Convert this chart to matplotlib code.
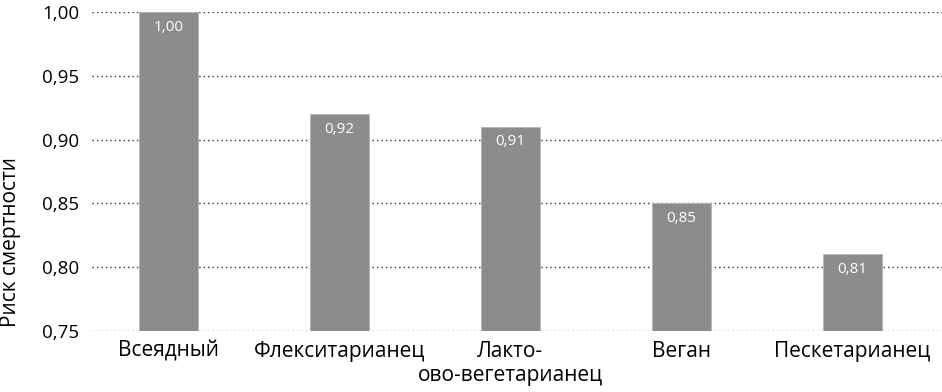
import matplotlib
matplotlib.use("Agg")
import matplotlib.pyplot as plt

plt.rcParams['font.family'] = ['Open Sans', 'DejaVu Sans']

categories = ["Всеядный", "Флекситарианец", "Лакто-\nово-вегетарианец", "Веган", "Пескетарианец"]
values = [1.00, 0.92, 0.91, 0.85, 0.81]
yticks = [0.75, 0.80, 0.85, 0.90, 0.95, 1.00]

W, H = 942, 392
fig = plt.figure(figsize=(W / 100, H / 100), dpi=100)
ax = fig.add_axes([92 / W, (H - 331) / H, 850 / W, (331 - 12) / H])

x = list(range(len(categories)))
ax.set_axisbelow(True)
ax.yaxis.grid(True, linestyle=(0, (1, 2.2)), color='#333333', linewidth=1.0)
ax.bar(x, [v - 0.75 for v in values], bottom=0.75, width=0.345, color='#8c8c8c',
       edgecolor='#b5b5b5', linewidth=0.6, zorder=3)

for xi, v in zip(x, values):
    ax.text(xi, v - 0.006, f"{v:.2f}".replace('.', ','), ha='center', va='top',
            color='white', fontsize=11, zorder=4)

ax.set_xlim(-0.447, 4.524)
ax.set_ylim(0.75, 1.00)
ax.set_yticks(yticks)
ax.set_yticklabels([f"{t:.2f}".replace('.', ',') for t in yticks], fontsize=13.5)
ax.set_xticks(x)
ax.set_xticklabels(categories, fontsize=15, linespacing=1.2)
ax.tick_params(axis='both', length=0)
ax.tick_params(axis='y', pad=9)
ax.tick_params(axis='x', pad=7)
for s in ax.spines.values():
    s.set_visible(False)

ax.set_ylabel("Риск смертности", fontsize=15)
ax.yaxis.label.set_va('center')
ax.yaxis.set_label_coords((11 - 92) / 850, 0.28)

fig.savefig("out.png", dpi=100)
